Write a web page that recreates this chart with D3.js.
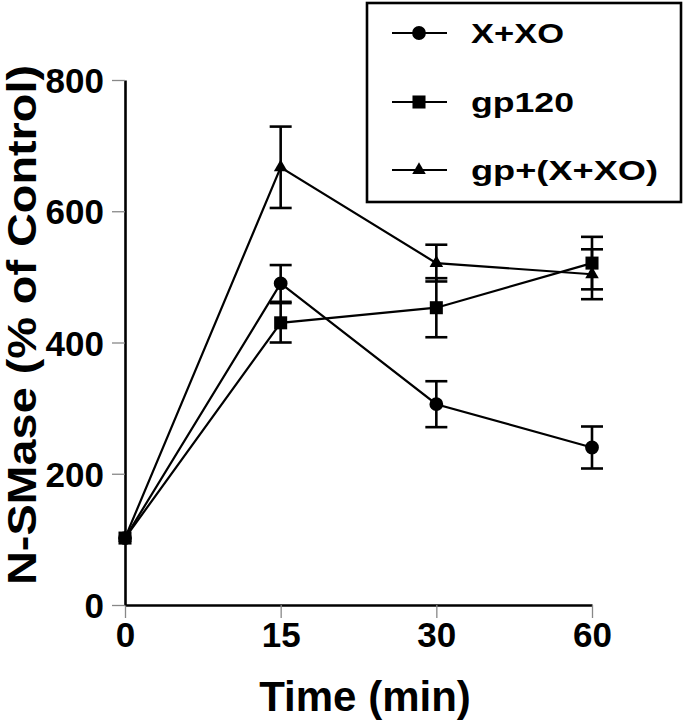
<!DOCTYPE html>
<html lang="en">
<head>
  <meta charset="UTF-8">
  <title>N-SMase time course</title>
  <script src="https://d3js.org/d3.v7.min.js"></script>
  <style>
    body { margin: 0; background: #fff; }
    text { font-family: "Liberation Sans", Arial, sans-serif; font-weight: bold; fill: #000; }
  </style>
</head>
<body>
<svg></svg>
<script>
  // data
  const times = ['0', '15', '30', '60']
  const yTicks = [0, 200, 400, 600, 800]

  const xxoValues = [102, 490, 306, 240]
  const xxoErrors = [0, 28, 35, 32]

  const gp120Values = [102, 430, 453, 521]
  const gp120Errors = [0, 30, 45, 40]

  const gpXxoValues = [102, 667, 521, 504]
  const gpXxoErrors = [0, 62, 28, 38]

  const seriesNames = ['X+XO', 'gp120', 'gp+(X+XO)']

  const width = 684
  const height = 720

  const svg = d3.select('svg')
    .attr('width', width)
    .attr('height', height)

  const x = d3.scalePoint().domain(times).range([125, 592])
  const y = d3.scaleLinear().domain([0, 800]).range([605, 80])

  // axes
  const xAxis = svg.append('g')
    .attr('transform', `translate(0, ${y(0)})`)
    .call(d3.axisBottom(x).tickSize(13).tickSizeOuter(0).tickPadding(4))
  const yAxis = svg.append('g')
    .attr('transform', `translate(${x('0')}, 0)`)
    .call(d3.axisLeft(y).tickValues(yTicks).tickSize(13).tickSizeOuter(0).tickPadding(8))

  ;[xAxis, yAxis].forEach(a => {
    a.select('.domain').attr('stroke', '#000').attr('stroke-width', 2.6)
    a.selectAll('.tick line').attr('stroke', '#888').attr('stroke-width', 1.3)
    a.selectAll('.tick text').style('font-size', '35px').attr('fill', '#000')
  })
  xAxis.selectAll('.tick text').attr('dy', '0.72em')
  yAxis.selectAll('.tick text').attr('dy', '0.36em')

  // axis titles
  svg.append('text')
    .attr('x', 365)
    .attr('y', 711)
    .attr('text-anchor', 'middle')
    .style('font-size', '42px')
    .text('Time (min)')

  svg.append('text')
    .attr('transform', 'translate(36, 325) rotate(-90)')
    .attr('text-anchor', 'middle')
    .attr('textLength', 520)
    .attr('lengthAdjust', 'spacingAndGlyphs')
    .style('font-size', '40px')
    .text('N-SMase (% of Control)')

  const series = [
    { name: seriesNames[0], values: xxoValues, errors: xxoErrors, symbol: d3.symbolCircle, size: 150 },
    { name: seriesNames[1], values: gp120Values, errors: gp120Errors, symbol: d3.symbolSquare, size: 170 },
    { name: seriesNames[2], values: gpXxoValues, errors: gpXxoErrors, symbol: d3.symbolTriangle, size: 80 }
  ]

  const line = d3.line()
    .x(d => x(d.t))
    .y(d => y(d.v))

  const plot = svg.append('g')

  series.forEach(s => {
    const pts = times.map((t, i) => ({ t: t, v: s.values[i], e: s.errors[i] }))

    plot.append('path')
      .datum(pts)
      .attr('d', line)
      .attr('fill', 'none')
      .attr('stroke', '#000')
      .attr('stroke-width', 2.2)

    // error bars
    const eb = plot.append('g')
      .selectAll('g')
      .data(pts.filter(d => d.e > 0))
      .join('g')
      .attr('stroke', '#000')
      .attr('stroke-width', 2.6)
    eb.append('line')
      .attr('x1', d => x(d.t)).attr('x2', d => x(d.t))
      .attr('y1', d => y(d.v + d.e)).attr('y2', d => y(d.v - d.e))
    eb.append('line')
      .attr('x1', d => x(d.t) - 11).attr('x2', d => x(d.t) + 11)
      .attr('y1', d => y(d.v + d.e)).attr('y2', d => y(d.v + d.e))
    eb.append('line')
      .attr('x1', d => x(d.t) - 11).attr('x2', d => x(d.t) + 11)
      .attr('y1', d => y(d.v - d.e)).attr('y2', d => y(d.v - d.e))

    plot.append('g')
      .selectAll('path')
      .data(pts)
      .join('path')
      .attr('d', d3.symbol().type(s.symbol).size(s.size))
      .attr('transform', d => `translate(${x(d.t)}, ${y(d.v)})`)
      .attr('fill', '#000')
  })

  // legend
  const legend = svg.append('g')
  legend.append('rect')
    .attr('x', 367).attr('y', 3)
    .attr('width', 314).attr('height', 199)
    .attr('fill', '#fff')
    .attr('stroke', '#000')
    .attr('stroke-width', 2.6)

  const legendRows = [33, 102, 170]
  const legendWidths = [93, 103, 187]
  series.forEach((s, i) => {
    const row = legend.append('g').attr('transform', `translate(0, ${legendRows[i]})`)
    row.append('line')
      .attr('x1', 392).attr('x2', 447)
      .attr('stroke', '#000').attr('stroke-width', 2.2)
    row.append('path')
      .attr('d', d3.symbol().type(s.symbol).size(s.size))
      .attr('transform', 'translate(419, 0)')
      .attr('fill', '#000')
    row.append('text')
      .attr('x', 471)
      .attr('y', 10)
      .attr('textLength', legendWidths[i])
      .attr('lengthAdjust', 'spacingAndGlyphs')
      .style('font-size', '27px')
      .text(s.name)
  })
</script>
</body>
</html>
